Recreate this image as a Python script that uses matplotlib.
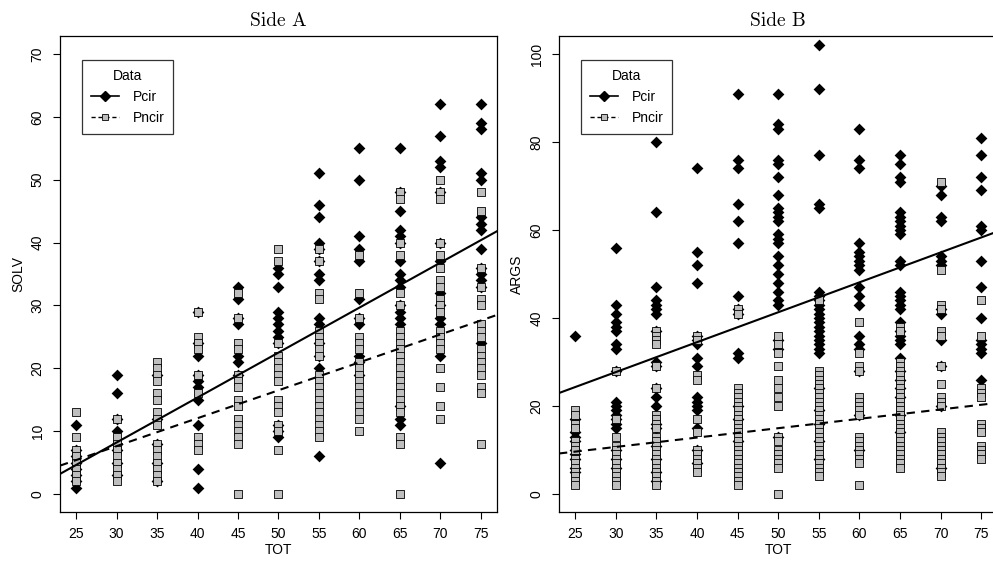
import numpy as np
import matplotlib.pyplot as plt
from matplotlib.lines import Line2D

tot = [25, 30, 35, 40, 45, 50, 55, 60, 65, 70, 75]

# SOLV values per TOT group (Side A)
solv_pcir = [
    [11, 1, 2, 3, 4, 5, 6, 7],
    [19, 16, 12, 10, 3, 5, 7, 8],
    [2, 5, 8, 12, 19],
    [29, 24, 22, 19, 18, 17, 15, 11, 4, 1],
    [33, 31, 28, 27, 22, 21, 19],
    [36, 35, 33, 29, 28, 27, 26, 25, 24, 11, 10, 9],
    [51, 46, 44, 40, 39, 37, 35, 34, 28, 27, 24, 22, 20, 6],
    [55, 50, 41, 39, 37, 31, 28, 27, 22, 21, 19],
    [55, 48, 45, 42, 41, 40, 37, 35, 34, 33, 30, 29, 28, 27, 14, 12, 11],
    [62, 57, 53, 52, 48, 40, 37, 32, 30, 28, 27, 22, 5],
    [62, 59, 58, 51, 50, 44, 43, 42, 39, 36, 35, 34, 33, 24],
]
solv_pncir = [
    [13, 9, 7, 6, 5, 4, 3, 2],
    [12, 9, 8, 7, 6, 5, 4, 3, 2],
    [21, 20, 19, 18, 16, 15, 13, 12, 11, 8, 7, 6, 5, 4, 3, 2],
    [29, 25, 24, 23, 19, 16, 9, 8, 7],
    [32, 28, 24, 23, 19, 18, 17, 15, 14, 12, 11, 10, 9, 8, 0],
    [39, 37, 24, 22, 21, 20, 19, 18, 15, 14, 13, 11, 10, 7, 0],
    [39, 37, 32, 31, 26, 25, 24, 23, 22, 19, 18, 17, 16, 15, 14, 13, 12, 11, 10, 9],
    [38, 32, 28, 25, 24, 23, 21, 20, 19, 18, 17, 16, 15, 14, 13, 12, 10],
    [48, 47, 40, 38, 32, 30, 26, 25, 24, 23, 22, 21, 20, 19, 18, 17, 16, 15, 14, 13, 9, 8, 0],
    [50, 48, 47, 40, 38, 36, 34, 33, 31, 30, 29, 26, 25, 24, 23, 20, 17, 14, 12],
    [48, 45, 36, 33, 31, 30, 27, 26, 25, 23, 22, 21, 20, 19, 17, 16, 8],
]

# ARGS values per TOT group (Side B)
args_pcir = [
    [36, 17, 14, 13, 12, 10, 9, 8, 6, 5],
    [56, 43, 41, 39, 38, 37, 34, 33, 28, 21, 20, 19, 18, 17, 16, 15, 10, 8, 6],
    [80, 64, 47, 44, 43, 42, 41, 37, 30, 29, 24, 22, 20, 16, 15, 11, 8, 5, 3],
    [74, 55, 52, 48, 36, 35, 34, 31, 29, 22, 21, 20, 19, 15, 10, 7],
    [91, 76, 74, 66, 62, 57, 45, 42, 41, 32, 31, 20, 17, 12],
    [91, 84, 83, 76, 75, 72, 68, 65, 64, 63, 62, 59, 58, 57, 54, 52, 50, 48, 46, 44, 43, 35, 33, 13],
    [102, 92, 77, 66, 65, 46, 45, 44, 43, 42, 41, 40, 39, 38, 37, 36, 35, 34, 33, 32, 24, 19, 16, 12, 8],
    [83, 76, 74, 57, 55, 54, 53, 52, 51, 47, 45, 43, 36, 34, 33, 28, 18, 10],
    [77, 75, 72, 71, 64, 63, 62, 61, 60, 59, 53, 52, 46, 45, 44, 43, 42, 39, 37, 36, 35, 34, 31, 28, 26, 24, 22, 18, 14],
    [70, 68, 63, 62, 54, 53, 52, 42, 41, 35, 29, 20, 6],
    [81, 77, 72, 69, 61, 60, 53, 47, 40, 35, 34, 33, 32, 26],
]
args_pncir = [
    [19, 18, 16, 15, 12, 11, 10, 8, 7, 6, 5, 4, 3, 2],
    [28, 17, 13, 11, 10, 9, 8, 7, 6, 5, 4, 3, 2],
    [37, 36, 35, 34, 29, 24, 18, 17, 16, 15, 13, 12, 11, 10, 9, 8, 7, 6, 5, 4, 3, 2],
    [36, 35, 27, 26, 17, 14, 10, 9, 8, 7, 6, 5],
    [42, 41, 24, 23, 22, 21, 20, 19, 18, 17, 16, 15, 14, 13, 12, 11, 10, 9, 8, 7, 6, 5, 4, 3, 2],
    [36, 34, 32, 29, 26, 24, 22, 20, 13, 12, 10, 9, 8, 7, 6, 0],
    [44, 28, 27, 26, 25, 24, 23, 22, 21, 20, 19, 18, 17, 16, 15, 14, 13, 12, 11, 10, 9, 8, 7, 6, 5, 4],
    [39, 32, 29, 28, 22, 21, 20, 19, 18, 13, 12, 11, 10, 9, 8, 7, 2],
    [38, 37, 30, 29, 28, 27, 26, 25, 24, 23, 22, 21, 20, 19, 18, 17, 16, 15, 14, 13, 12, 11, 10, 9, 8, 7, 6],
    [71, 51, 43, 42, 37, 36, 29, 25, 22, 21, 20, 14, 13, 12, 11, 10, 9, 8, 7, 6, 5, 4],
    [44, 36, 24, 23, 22, 16, 15, 14, 11, 10, 9, 8],
]

# fitted lines (intercept, slope) as drawn in the picture
fit_a_pcir = (-13.25, 0.715)
fit_a_pncir = (-5.7, 0.444)
fit_b_pcir = (7.3, 0.68)
fit_b_pncir = (4.3, 0.213)

GRAY = '#bebebe'


def flat(groups):
    xs, ys = [], []
    for t, g in zip(tot, groups):
        xs += [t] * len(g)
        ys += g
    return np.array(xs), np.array(ys)


def panel(ax, pcir, pncir, fit1, fit2, title, ylab, ylim, yticks):
    x1, y1 = flat(pcir)
    x2, y2 = flat(pncir)
    ax.scatter(x1, y1, marker='D', s=36, c='black', linewidths=0, zorder=2)
    ax.scatter(x2, y2, marker='s', s=26, c=GRAY, edgecolors='black', linewidths=0.6, zorder=3)
    xx = np.array([23, 77])
    ax.plot(xx, fit1[0] + fit1[1] * xx, color='black', lw=1.5, zorder=4)
    ax.plot(xx, fit2[0] + fit2[1] * xx, color='black', lw=1.5, ls=(0, (4, 3)), zorder=4)
    ax.set_xlim(23, 77)
    ax.set_ylim(*ylim)
    ax.set_xticks(tot)
    ax.set_yticks(yticks)
    for lab in ax.get_yticklabels():
        lab.set_rotation(90)
        lab.set_va('center')
    ax.tick_params(direction='out', length=5, width=0.8, labelsize=10, pad=6)
    ax.set_xlabel('TOT', fontsize=10, labelpad=1)
    ax.set_ylabel(ylab, fontsize=10, labelpad=4)
    ax.set_title(title, fontfamily='cmr10', fontsize=14, pad=7)
    for sp in ax.spines.values():
        sp.set_linewidth(0.9)
    h1 = Line2D([], [], color='black', lw=1.2, marker='D', ms=5.5, mec='black')
    h2 = Line2D([], [], color='black', lw=1.0, ls=(0, (3, 2)), marker='s', ms=5,
                mfc=GRAY, mec='black', mew=0.6)
    leg = ax.legend([h1, h2], ['Pcir', 'Pncir'], title='Data', loc='upper left',
                    bbox_to_anchor=(0.05, 0.95), borderaxespad=0, fancybox=False,
                    edgecolor='black', fontsize=10, title_fontsize=10,
                    handlelength=2.0, handletextpad=1.0, borderpad=0.65, labelspacing=0.5)
    leg.get_frame().set_linewidth(0.9)


plt.rcParams['font.family'] = ['Liberation Sans', 'DejaVu Sans']
fig = plt.figure(figsize=(9.93, 5.72), dpi=100)
ax1 = fig.add_axes([0.0604, 0.1049, 0.4401, 0.8322])
ax2 = fig.add_axes([0.5629, 0.1049, 0.4416, 0.8322])

panel(ax1, solv_pcir, solv_pncir, fit_a_pcir, fit_a_pncir, 'Side A', 'SOLV',
      (-2.86, 72.86), range(0, 71, 10))
panel(ax2, args_pcir, args_pncir, fit_b_pcir, fit_b_pncir, 'Side B', 'ARGS',
      (-4.1, 104.1), range(0, 101, 20))

fig.savefig('out.png', dpi=100)
